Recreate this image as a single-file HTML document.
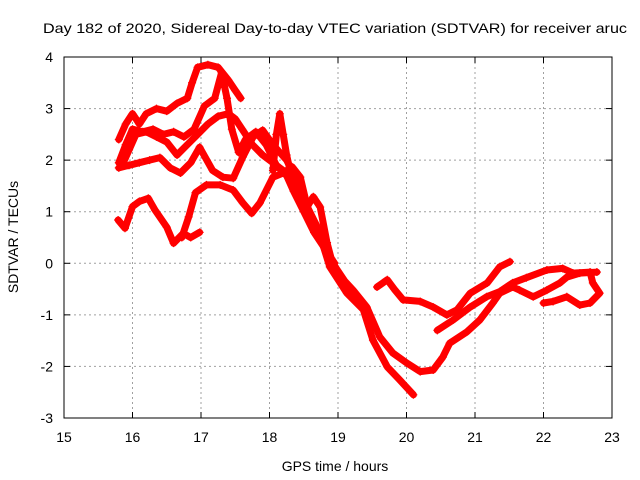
<!DOCTYPE html>
<html><head><meta charset="utf-8"><style>
html,body{margin:0;padding:0;background:#fff;}
svg{display:block;font-family:"Liberation Sans",sans-serif;}
</style></head><body>
<svg id="chart" width="640" height="480" viewBox="0 0 640 480">
<rect width="640" height="480" fill="#fff"/>
<text x="43" y="33" font-size="14" textLength="584" lengthAdjust="spacingAndGlyphs">Day 182 of 2020, Sidereal Day-to-day VTEC variation (SDTVAR) for receiver aruc</text>
<g id="grid"></g>
<g id="series"></g>
<rect x="64" y="57" width="548" height="361" fill="none" stroke="#000" stroke-width="1"/>
<g id="ticks"></g>
<text x="0" y="0" font-size="14" text-anchor="middle" transform="translate(18,237) rotate(-90)">SDTVAR / TECUs</text>
<text x="335" y="471" font-size="14" text-anchor="middle">GPS time / hours</text>
</svg>
<script>
const xTicks = [15,16,17,18,19,20,21,22,23];
const yTicks = [4,3,2,1,0,-1,-2,-3];
const track1 = [[15.8,2.4],[15.9,2.7],[16.0,2.9],[16.1,2.7],[16.2,2.9],[16.35,3.0],[16.5,2.95],[16.65,3.1],[16.8,3.2],[16.87,3.5],[16.95,3.8],[17.1,3.85],[17.25,3.8],[17.4,3.55],[17.5,3.35],[17.58,3.2]];
const track2 = [[15.8,1.95],[15.9,2.3],[16.0,2.6],[16.15,2.55],[16.3,2.6],[16.45,2.5],[16.6,2.55],[16.75,2.45],[16.9,2.6],[17.05,3.05],[17.2,3.2],[17.3,3.7],[17.38,3.2],[17.45,2.6],[17.55,2.15],[17.65,2.4],[17.8,2.55],[17.95,2.3],[18.1,1.9],[18.25,1.7],[18.35,1.4],[18.5,1.0],[18.65,0.6],[18.8,0.3],[18.95,-0.05],[19.1,-0.35],[19.22,-0.52],[19.42,-0.85],[19.61,-1.43],[19.8,-1.74],[20.0,-1.93],[20.2,-2.1],[20.39,-2.07],[20.53,-1.82],[20.63,-1.55],[20.88,-1.33],[21.07,-1.1],[21.26,-0.77],[21.36,-0.58],[21.55,-0.46],[21.65,-0.52],[21.85,-0.65],[22.05,-0.52],[22.24,-0.38],[22.34,-0.27],[22.53,-0.19],[22.78,-0.17]];
const track3 = [[15.8,1.85],[15.95,1.9],[16.1,1.95],[16.25,2.0],[16.4,2.05],[16.55,1.85],[16.7,1.75],[16.85,1.95],[16.98,2.25],[17.17,1.8],[17.32,1.67],[17.47,1.65],[17.61,2.06],[17.76,2.45],[17.9,2.58],[18.05,2.3],[18.25,2.0],[18.4,1.6],[18.55,1.1],[18.7,0.7],[18.88,-0.07],[19.13,-0.58],[19.37,-0.9],[19.51,-1.49],[19.72,-2.01],[19.9,-2.26],[20.1,-2.55]];
const track4 = [[15.85,1.9],[15.95,2.2],[16.05,2.5],[16.2,2.55],[16.35,2.45],[16.5,2.35],[16.65,2.1],[16.8,2.3],[16.95,2.5],[17.1,2.7],[17.25,2.85],[17.4,2.9],[17.5,2.8],[17.6,2.6],[17.75,2.3],[17.9,2.1],[18.05,1.95],[18.15,1.85],[18.3,1.7],[18.4,1.4],[18.55,1.0],[18.7,0.6],[18.85,0.2],[18.95,0.0]];
const track5 = [[15.79,0.84],[15.89,0.68],[16.0,1.1],[16.1,1.2],[16.23,1.26],[16.33,1.03],[16.5,0.7],[16.6,0.39],[16.74,0.58],[16.85,0.5],[16.98,0.6]];
const track6 = [[16.72,0.5],[16.82,0.9],[16.92,1.37],[17.08,1.52],[17.28,1.52],[17.47,1.42],[17.61,1.17],[17.74,0.97],[17.86,1.17],[18.05,1.67],[18.2,1.75],[18.33,1.87],[18.45,1.67],[18.55,1.1],[18.64,1.29],[18.74,1.09],[18.84,0.4],[18.9,0.1]];
const track7 = [[18.05,1.8],[18.1,2.5],[18.15,2.9],[18.2,2.5],[18.25,2.1],[18.3,1.8]];
const track8 = [[19.57,-0.46],[19.72,-0.32],[19.82,-0.5],[19.95,-0.71],[20.2,-0.74],[20.39,-0.85],[20.59,-1.0],[20.74,-0.9],[20.93,-0.58],[21.18,-0.38],[21.36,-0.07],[21.51,0.03]];
const track9 = [[20.45,-1.3],[20.68,-1.1],[20.93,-0.85],[21.17,-0.65],[21.36,-0.55],[21.55,-0.38],[21.75,-0.28],[22.05,-0.13],[22.28,-0.1],[22.43,-0.19],[22.68,-0.17],[22.72,-0.38],[22.82,-0.58],[22.68,-0.77],[22.53,-0.81],[22.34,-0.65],[22.14,-0.74],[22.0,-0.77]];
const tracks = [track1,track2,track3,track4,track5,track6,track7,track8,track9];

const X0=64,X1=612,Y0=418,Y1=57,XMIN=15,XMAX=23,YMIN=-3,YMAX=4;
function sx(h){return X0+(h-XMIN)/(XMAX-XMIN)*(X1-X0);}
function sy(v){return Y0-(v-YMIN)/(YMAX-YMIN)*(Y0-Y1);}
const NS='http://www.w3.org/2000/svg';
const grid=document.getElementById('grid'), ticks=document.getElementById('ticks'), ser=document.getElementById('series');
function mk(tag,attrs,parent){const e=document.createElementNS(NS,tag);for(const k in attrs)e.setAttribute(k,attrs[k]);parent.appendChild(e);return e;}

xTicks.forEach(t=>{
  const x=sx(t);
  if(t>XMIN&&t<XMAX){
    const g=mk('line',{x1:x,x2:x,y1:Y1,y2:Y0,stroke:'#a0a0a0','stroke-dasharray':'2,3'},grid);
    
    
  }
  const a=mk('line',{x1:x,x2:x,y1:Y0,y2:Y0-6,stroke:'#000'},ticks);
  
  
  const b=mk('line',{x1:x,x2:x,y1:Y1,y2:Y1+6,stroke:'#000'},ticks);
  
  
  const l=mk('text',{x:x,y:442,'font-size':14,'text-anchor':'middle'},ticks);
  l.textContent=t;
  
  
});
yTicks.forEach(t=>{
  const y=sy(t);
  if(t>YMIN&&t<YMAX){
    const g=mk('line',{x1:X0,x2:X1,y1:y,y2:y,stroke:'#a0a0a0','stroke-dasharray':'2,3'},grid);
    
    
  }
  const a=mk('line',{x1:X0,x2:X0+6,y1:y,y2:y,stroke:'#000'},ticks);
  
  
  const b=mk('line',{x1:X1,x2:X1-6,y1:y,y2:y,stroke:'#000'},ticks);
  
  
  const l=mk('text',{x:53,y:y+5,'font-size':14,'text-anchor':'end'},ticks);
  l.textContent=t;
  
  
});
tracks.forEach((tr,i)=>{
  const pts=tr.map(p=>sx(p[0]).toFixed(1)+','+sy(p[1]).toFixed(1)).join(' ');
  const pl=mk('polyline',{points:pts,fill:'none',stroke:'#ff0000','stroke-width':7,'stroke-linejoin':'round','stroke-linecap':'round'},ser);
  
  
  tr.forEach(p=>{
    const x=sx(p[0]),y=sy(p[1]);
    const m=mk('path',{d:`M${x-4},${y}H${x+4}M${x},${y-4}V${y+4}`,stroke:'#ff0000','stroke-width':1.2},ser);
    
    
  });
});
</script>
</body></html>
